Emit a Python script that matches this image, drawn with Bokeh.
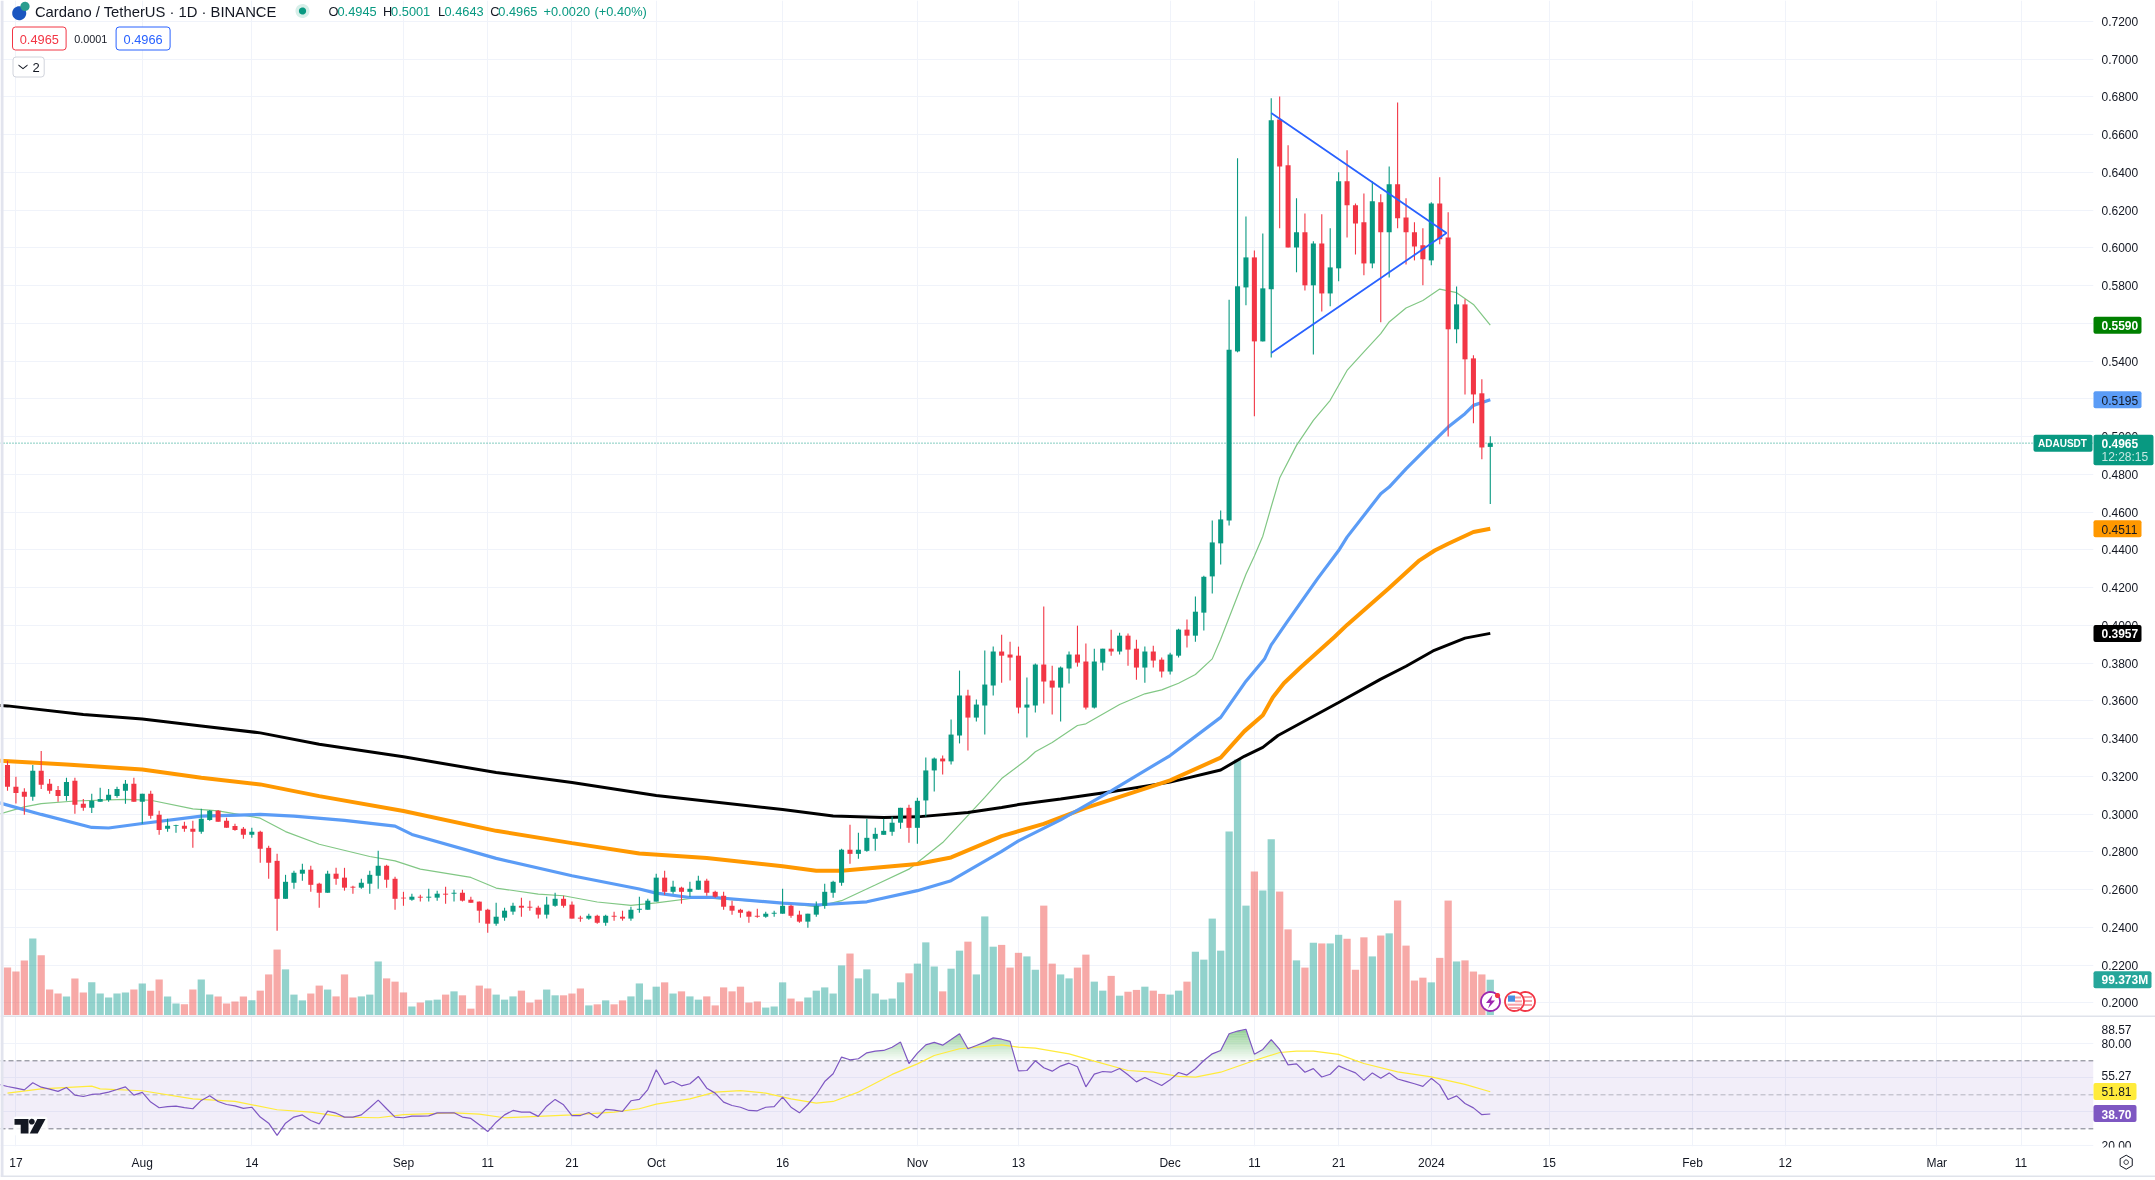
import numpy as np
from bokeh.core.properties import value
from bokeh.embed import file_html
from bokeh.resources import INLINE
from bokeh.plotting import figure
from bokeh.layouts import column
from bokeh.models import Range1d, FixedTicker, Grid, BoxAnnotation, Span, PrintfTickFormatter

# ---------- data ----------
opens = [.3260,.3144,.3118,.3091,.3229,.3160,.3128,.3096,.3176,.3054,
.3033,.3065,.3075,.3096,.3123,.3160,.3065,.3107,.2996,.2922,
.2936,.2938,.2922,.2906,.2969,.3017,.2964,.2936,.2922,.2890,
.2906,.2821,.2752,.2551,.2636,.2684,.2705,.2631,.2583,.2684,
.2663,.2615,.2610,.2631,.2673,.2726,.2657,.2557,.2546,.2562,
.2557,.2557,.2578,.2578,.2583,.2546,.2536,.2493,.2419,.2451,
.2483,.2514,.2509,.2504,.2467,.2514,.2551,.2520,.2451,.2446,
.2461,.2424,.2461,.2456,.2446,.2493,.2493,.2536,.2663,.2588,
.2610,.2588,.2599,.2647,.2588,.2567,.2514,.2493,.2483,.2461,
.2456,.2472,.2472,.2514,.2467,.2430,.2467,.2514,.2583,.2636,
.2811,.2789,.2805,.2869,.2890,.2906,.2954,.3033,.2927,.3072,
.3231,.3294,.3279,.3416,.3628,.3511,.3575,.3681,.3861,.3845,
.3839,.3564,.3575,.3792,.3707,.3670,.3771,.3845,.3808,.3564,
.3802,.3876,.3861,.3945,.3876,.3776,.3861,.3818,.3755,.3839,
.3977,.3945,.4067,.4259,.4434,.4555,.5451,.5790,.5949,.5504,
.5780,.6680,.6437,.6002,.6082,.5801,.6023,.5758,.5891,.6352,
.6225,.6135,.5917,.6241,.6082,.6336,.6161,.6082,.6013,.5933,
.6235,.6055,.5568,.5700,.5414,.5229,.4945]
highs = [.3282,.3197,.3137,.3260,.3334,.3186,.3149,.3192,.3192,.3080,
.3107,.3139,.3133,.3144,.3181,.3192,.3107,.3123,.3017,.2975,
.2943,.2959,.2964,.3028,.3022,.3022,.2980,.2948,.2932,.2927,
.2911,.2832,.2789,.2678,.2699,.2737,.2726,.2636,.2699,.2715,
.2715,.2620,.2657,.2699,.2805,.2731,.2668,.2588,.2578,.2573,
.2604,.2594,.2615,.2599,.2599,.2562,.2536,.2498,.2530,.2504,
.2530,.2557,.2541,.2514,.2562,.2583,.2567,.2536,.2461,.2472,
.2467,.2467,.2483,.2488,.2509,.2562,.2551,.2684,.2699,.2647,
.2615,.2641,.2673,.2657,.2594,.2588,.2541,.2498,.2488,.2498,
.2483,.2488,.2604,.2520,.2488,.2472,.2536,.2631,.2647,.2816,
.2943,.2901,.2975,.2927,.2975,.2985,.3033,.3049,.3086,.3300,
.3300,.3310,.3501,.3760,.3659,.3607,.3866,.3887,.3950,.3913,
.3887,.3723,.3797,.4099,.3786,.3781,.3861,.3998,.3903,.3876,
.3876,.3977,.3961,.3956,.3924,.3887,.3892,.3829,.3855,.3982,
.4030,.4152,.4263,.4555,.4608,.5725,.6474,.6166,.5986,.6076,
.6792,.6802,.6543,.6262,.6182,.6034,.6177,.6103,.6400,.6516,
.6235,.6288,.6352,.6283,.6431,.6770,.6262,.6135,.6103,.6241,
.6373,.6188,.5795,.5727,.5430,.5303,.5001]
lows = [.3123,.3056,.2996,.3070,.3133,.3107,.3065,.3070,.3001,.3017,
.3006,.3065,.3065,.3086,.3054,.3065,.2948,.2975,.2890,.2906,
.2901,.2906,.2821,.2895,.2964,.2959,.2927,.2911,.2869,.2874,
.2742,.2657,.2382,.2551,.2604,.2647,.2588,.2504,.2583,.2625,
.2594,.2578,.2604,.2578,.2604,.2610,.2493,.2514,.2541,.2536,
.2536,.2541,.2525,.2536,.2536,.2530,.2424,.2371,.2408,.2435,
.2467,.2456,.2488,.2446,.2446,.2509,.2504,.2446,.2430,.2440,
.2419,.2408,.2435,.2435,.2435,.2477,.2493,.2536,.2573,.2578,
.2525,.2562,.2599,.2567,.2557,.2493,.2467,.2451,.2424,.2451,
.2451,.2456,.2472,.2451,.2424,.2398,.2456,.2498,.2557,.2620,
.2737,.2763,.2800,.2805,.2890,.2885,.2922,.2848,.2842,.2987,
.3120,.3210,.3263,.3374,.3337,.3490,.3421,.3628,.3696,.3707,
.3533,.3406,.3538,.3585,.3527,.3490,.3691,.3781,.3554,.3559,
.3760,.3839,.3845,.3786,.3712,.3696,.3776,.3723,.3739,.3829,
.3882,.3913,.3972,.4169,.4322,.4529,.5446,.5695,.5107,.5504,
.5419,.6103,.6002,.5870,.5774,.5435,.5663,.5690,.5822,.6055,
.5965,.5854,.5891,.5605,.5843,.6103,.5912,.5933,.5801,.5907,
.6018,.5000,.5494,.5223,.5070,.4879,.4643]
closes = [.3144,.3112,.3091,.3229,.3155,.3123,.3096,.3170,.3049,.3033,
.3070,.3080,.3102,.3133,.3160,.3065,.3107,.2991,.2916,.2938,
.2941,.2922,.2906,.2975,.3017,.2959,.2927,.2916,.2890,.2906,
.2816,.2742,.2551,.2641,.2689,.2705,.2625,.2583,.2684,.2657,
.2610,.2610,.2636,.2678,.2726,.2652,.2551,.2553,.2562,.2557,
.2562,.2578,.2573,.2583,.2541,.2530,.2488,.2419,.2456,.2488,
.2514,.2504,.2504,.2467,.2520,.2551,.2514,.2446,.2446,.2461,
.2424,.2461,.2456,.2446,.2493,.2498,.2541,.2663,.2588,.2615,
.2588,.2604,.2647,.2583,.2562,.2509,.2488,.2477,.2456,.2456,
.2472,.2477,.2514,.2461,.2430,.2472,.2514,.2588,.2641,.2811,
.2789,.2811,.2874,.2895,.2911,.2954,.3033,.2927,.3070,.3231,
.3294,.3279,.3421,.3628,.3511,.3580,.3686,.3861,.3839,.3829,
.3564,.3580,.3792,.3702,.3670,.3776,.3845,.3802,.3564,.3808,
.3876,.3861,.3945,.3871,.3776,.3861,.3813,.3755,.3845,.3977,
.3945,.4072,.4257,.4439,.4561,.5460,.5796,.5949,.5504,.5785,
.6675,.6431,.6002,.6082,.5801,.6023,.5758,.5896,.6352,.6225,
.6129,.5917,.6246,.6082,.6336,.6156,.6082,.6007,.5939,.6235,
.6045,.5568,.5700,.5409,.5223,.4942,.4965]
volume_m = [133,122,153,214,167,72,61,53,103,64,
92,61,50,61,64,72,89,69,100,53,
33,31,72,100,58,53,33,39,53,42,
69,114,183,128,58,42,61,83,72,53,
114,50,53,58,150,103,94,64,25,36,
42,44,58,67,56,19,83,75,58,44,
53,69,36,44,72,56,56,61,75,28,
31,42,31,42,53,89,44,80,92,61,
67,53,44,53,28,78,67,80,36,39,
22,25,92,47,39,50,69,78,61,139,
172,103,128,61,44,47,92,117,144,203,
136,67,130,180,205,114,275,191,196,133,
174,164,127,305,144,114,103,133,169,94,
69,110,55,66,71,80,69,60,58,69,
94,177,155,269,180,511,711,305,400,347,
489,344,239,153,133,202,200,200,224,213,
127,217,164,222,228,319,194,97,105,92,
160,319,150,153,122,114,99.373]
rsi = [56.1,54.9,53.9,52.9,57.1,54.5,53.3,52.0,54.3,49.8,49.0,
50.2,50.6,51.6,53.1,54.7,49.8,51.4,45.7,42.4,43.1,
43.3,42.5,41.8,46.7,49.4,46.1,44.3,43.5,42.0,42.7,
36.9,33.3,26.1,33.3,36.9,38.2,34.9,32.9,40.4,39.2,
36.9,36.9,38.2,42.4,46.9,41.8,36.9,36.5,37.5,37.5,
37.6,39.4,39.4,39.4,36.9,36.1,32.4,28.4,33.9,38.2,
40.8,39.8,39.8,37.3,43.3,47.3,44.1,37.8,37.8,39.6,
36.5,41.4,41.0,40.2,46.5,47.3,53.1,64.7,56.1,57.8,
55.3,56.5,60.8,53.9,51.0,45.7,43.7,42.7,40.8,40.6,
42.7,43.1,48.6,42.7,39.4,44.3,50.2,57.8,62.4,72.2,
70.6,71.2,74.7,75.7,76.1,78.0,81.0,68.4,74.5,79.4,
80.8,79.2,82.5,85.9,77.1,79.0,81.0,83.5,82.7,81.4,
64.1,64.3,70.0,65.9,63.9,66.9,68.6,66.5,54.7,62.2,
63.7,63.3,65.5,61.8,57.6,60.2,57.8,55.5,58.8,63.1,
61.6,65.3,70.2,74.1,76.1,85.9,87.5,88.57,73.9,76.7,
82.5,76.7,67.6,68.2,63.3,65.4,60.5,62.1,67.0,64.9,
62.9,58.5,62.9,59.7,62.9,59.3,57.9,56.5,55.0,59.7,
55.7,47.2,49.4,44.9,42.3,38.3,38.70]
black_idx = [-1,0,9,16,23,30,37,47,58,67,77,92,98,104,108,114,118,120,125,131,138,144,146.8,149,150.8,158,163,166,169.2,173,176]
black_ma = [.3576,.3573,.3527,.3504,.3467,.3430,.3370,.3303,.3220,.3167,.3098,.3024,.2990,.2982,.2985,.3008,.3035,.3050,.3080,.3118,.3169,.3233,.3306,.3353,.3416,.3591,.3715,.3783,.3864,.3932,.3957]
orange_idx = [-1,7,16,23,30,37,47,58,67,75,83,92,96,99,108,112,118,123,128,138,144,146.8,149,150.2,151.5,153.5,157.5,159,163.9,167.6,169.4,171,174,176]
orange_ma = [.3283,.3263,.3236,.3192,.3157,.3095,.3016,.2911,.2846,.2791,.2767,.2723,.2700,.2700,.2735,.2770,.2883,.2948,.3033,.3178,.3299,.3438,.3523,.3619,.3693,.3778,.3938,.4002,.4194,.4344,.4396,.4432,.4494,.4511]
blue_idx = [-1,4,10,12,16,23,30,34,40,46,48,58,67,75,77,81,84,92,96,102,108,112,118,120,125,131,138,144,147,149.2,150,151.8,155.5,158,159,163,164,166,169,171,173,174,176]
blue_ma = [.3060,.2998,.2929,.2926,.2950,.2989,.2998,.2989,.2966,.2936,.2892,.2765,.2673,.2603,.2581,.2558,.2558,.2528,.2518,.2535,.2594,.2647,.2802,.2858,.2969,.3123,.3310,.3512,.3704,.3821,.3896,.4013,.4247,.4396,.4467,.4697,.4732,.4829,.4962,.5050,.5121,.5165,.5195]
green_idx = [-1,2,4,8,14,17,22,25,30,33,37,43,46,49,55,58,63,66,70,74,77,82,92,96,99,103,107,111,116,118,121,122,124,127,128,132,135,137,139,141,143,144,147,148,149,150,151,153,155,157,159,161,163,164,166,168,170,172,174,176]
green_ma = [.3000,.3038,.3055,.3069,.3078,.3073,.3027,.3017,.2978,.2907,.2840,.2775,.2752,.2708,.2664,.2608,.2576,.2567,.2534,.2516,.2529,.2558,.2528,.2509,.2541,.2624,.2708,.2849,.3088,.3188,.3289,.3330,.3379,.3469,.3478,.3580,.3637,.3658,.3693,.3739,.3822,.3926,.4270,.4367,.4472,.4628,.4780,.4953,.5086,.5192,.5350,.5448,.5545,.5607,.5681,.5721,.5781,.5762,.5700,.5590]
yellow_idx = [0,4,10,11,16,22,27,32,36,40,44,47,53,56,59,63,67,72,75,77,81,84,87,90,93,96,98,101,105,108,110,113,118,120,122,126,129,133,136,139,141,144,148,151,153,155,158,161,165,169,173,176]
yellow_ma = [51.0,53.5,55.1,53.5,52.4,47.6,46.1,41.2,39.8,36.9,36.5,38.4,39.4,38.6,36.5,37.3,38.2,39.8,41.8,44.5,47.6,51.6,52.5,51.0,47.6,45.1,46.1,51.6,62.0,68.2,73.1,77.1,79.4,78.0,77.5,74.1,69.8,64.3,63.3,60.8,60.4,63.3,70.2,74.9,75.7,75.7,73.8,68.4,63.5,60.5,56.1,51.81]
triangle_idx = [150.0,170.8,150.0]
triangle_price = [.6714,.6078,.5442]
time_tick_idx = [1,16,29,47,57,67,77,92,108,120,138,148,158,169,183,200,211,229,239]
time_tick_labels = ["17","Aug","14","Sep","11","21","Oct","16","Nov","13","Dec","11","21","2024","15","Feb","12","Mar","11"]
price_ticks = [.20,.22,.24,.26,.28,.30,.32,.34,.36,.38,.40,.42,.44,.46,.48,.50,.52,.54,.56,.58,.60,.62,.64,.66,.68,.70,.72]

TEAL, RED = "#089981", "#f23645"
VOL_UP, VOL_DOWN = "#26a69a", "#ef5350"
GRID = "#f0f3fa"
FONT = "Liberation Sans"
TXT = "#131722"

idx = np.arange(len(opens))
xr = (-0.831, 247.6)
TOP_H, RSI_H = 1015, 165

p1 = figure(width=2155, height=TOP_H, output_backend="svg", toolbar_location=None,
            x_range=Range1d(*xr), y_range=Range1d(0.19327, 0.7310),
            x_axis_location=None, y_axis_location="right",
            min_border_left=0, min_border_top=0, min_border_bottom=0, min_border_right=62,
            outline_line_color=None, background_fill_color="white", border_fill_color="white")
p2 = figure(width=2155, height=RSI_H, output_backend="svg", toolbar_location=None,
            x_range=p1.x_range, y_range=Range1d(19.6, 96.06),
            x_axis_location="below", y_axis_location="right",
            min_border_left=0, min_border_top=1, min_border_bottom=34, min_border_right=62,
            outline_line_color=None, background_fill_color="white", border_fill_color="white")

for p in (p1, p2):
    p.grid.visible = False
    p.add_layout(Grid(dimension=0, ticker=FixedTicker(ticks=time_tick_idx), grid_line_color=GRID, grid_line_width=1))

# ---- axes ----
ya = p1.yaxis[0]
ya.ticker = FixedTicker(ticks=price_ticks)
ya.formatter = PrintfTickFormatter(format="%.4f")
p1.add_layout(Grid(dimension=1, ticker=FixedTicker(ticks=price_ticks), grid_line_color=GRID, grid_line_width=1))
rsi_ticks = [88.57, 80, 61.3, 20]
ya2 = p2.yaxis[0]
ya2.ticker = FixedTicker(ticks=rsi_ticks)
ya2.major_label_overrides = {88.57: "88.57", 80: "80.00", 61.3: "55.27", 20: "20.00"}
p2.add_layout(Grid(dimension=1, ticker=FixedTicker(ticks=[80, 60, 40, 20]), grid_line_color=GRID, grid_line_width=1))
xa = p2.xaxis[0]
xa.ticker = FixedTicker(ticks=time_tick_idx)
xa.major_label_overrides = {k: v for k, v in zip(time_tick_idx, time_tick_labels)}
for a in (ya, ya2, xa):
    a.axis_line_color = None
    a.major_tick_line_color = None
    a.minor_tick_line_color = None
    a.major_tick_out = 0
    a.major_tick_in = 0
    a.major_label_text_font = FONT
    a.major_label_text_font_size = "12px"
    a.major_label_text_color = TXT
ya.major_label_standoff = 8
ya2.major_label_standoff = 8
xa.major_label_standoff = 9

# ---- volume ----
p1.extra_y_ranges = {"vol": Range1d(0, 1015 * 2.776)}
colors = [TEAL if c >= o else RED for o, c in zip(opens, closes)]
vol_colors = [VOL_UP if c >= o else VOL_DOWN for o, c in zip(opens, closes)]
p1.vbar(x=idx, top=volume_m, bottom=0, width=0.86, y_range_name="vol",
        fill_color=vol_colors, fill_alpha=0.5, line_color=None)

# ---- price line ----
p1.add_layout(Span(location=closes[-1], dimension="width", line_color=TEAL, line_dash="1 2", line_width=1, level="underlay"))

# ---- moving averages ----
p1.line(green_idx, green_ma, line_color="#81c784", line_width=1.2)
p1.line(black_idx, black_ma, line_color="#000000", line_width=3)
p1.line(orange_idx, orange_ma, line_color="#ff9800", line_width=4)
p1.line(blue_idx, blue_ma, line_color="#5b9cf6", line_width=3.2)

# ---- candles ----
p1.segment(x0=idx, x1=idx, y0=lows, y1=highs, line_color=colors, line_width=1.1)
p1.vbar(x=idx, top=np.maximum(opens, closes), bottom=np.minimum(opens, closes), width=0.6,
        fill_color=colors, line_color=None)
p1.line(triangle_idx, triangle_price, line_color="#2962ff", line_width=1.8)

# ---- RSI pane ----
p2.add_layout(BoxAnnotation(bottom=30, top=70, fill_color="#7e57c2", fill_alpha=0.1, line_color=None, level="underlay"))
for lvl, alpha in ((70, 1.0), (30, 1.0), (50, 0.5)):
    p2.add_layout(Span(location=lvl, dimension="width", line_color="#787b86", line_alpha=alpha,
                       line_dash="5 3", line_width=1, level="underlay"))
rsi_idx = np.arange(-1, len(rsi) - 1)
fx = np.linspace(-1, rsi_idx[-1], 1781)
fr = np.interp(fx, rsi_idx, rsi)
for l in range(70, 89):
    p2.varea(x=fx, y1=np.full_like(fx, l), y2=np.clip(fr, l, l + 1), fill_color="#4caf50",
             fill_alpha=(l - 69) / 19 * 0.62)
p2.line(yellow_idx, yellow_ma, line_color="#ffeb3b", line_width=1.2)
p2.line(rsi_idx, rsi, line_color="#7e57c2", line_width=1.2)

# ---------- transparent overlay in page pixels: legend, tags, icons ----------
ov = figure(width=2155, height=1180, output_backend="svg", toolbar_location=None,
            x_range=Range1d(0, 2155), y_range=Range1d(1180, 0),
            x_axis_location=None, y_axis_location=None,
            min_border=0, outline_line_color=None, background_fill_color=None, border_fill_color=None)
ov.grid.visible = False


def box(X0, X1, Y0, Y1, fill="white", line=None, radius=0, alpha=1.0, lw=1):
    ov.quad(left=[X0], right=[X1], top=[Y0], bottom=[Y1], fill_color=fill, fill_alpha=alpha,
            line_color=line, line_width=lw, border_radius=radius)


def txt(X, Y, s, color=TXT, size=12, bold=False, align="left"):
    ov.text(x=[X], y=[Y], text=[s], text_color=color, text_font=value(FONT), text_font_size=f"{size}px",
            text_baseline="middle", text_align=align, text_font_style="bold" if bold else "normal")


def poly(XS, YS, fill, line=None, lw=1):
    ov.patch(list(XS), list(YS), fill_color=fill, line_color=line, line_width=lw)


def circ(X, Y, r, fill, line=None, lw=1):
    t = np.linspace(0, 2 * np.pi, 40)[:-1]
    poly((X + r * np.cos(t)).tolist(), (Y + r * np.sin(t)).tolist(), fill, line, lw)


def y_price(v):
    return 1002.3 - (v - 0.20) * 1887.5


def y_rsi(v):
    return 1094.3 - (v - 50) * 1.7


def pill(Y, s, bg, fg, X1, bold=False):
    box(2093, X1, Y - 8.5, Y + 8.5, fill=bg, radius=2)
    txt(2101, Y + 0.5, s, color=fg, bold=bold)


# clipped last RSI label, rule lines, left sidebar
box(2093, 2155, 1147, 1175, fill="white")
box(0, 2155, 1015, 1016.5, fill="#e0e3eb")
box(0, 2155, 1175, 1176.6, fill="#e0e3eb")
box(0, 3, 0, 1176, fill="#e2e4ee")

# tags on the price scale
pill(y_price(green_ma[-1]), "0.5590", "#008000", "white", 2141, True)
pill(y_price(blue_ma[-1]), "0.5195", "#5b9cf6", TXT, 2141)
pill(y_price(orange_ma[-1]), "0.4511", "#ff9800", TXT, 2141)
pill(y_price(black_ma[-1]), "0.3957", "#000000", "white", 2141, True)
pill(1015 - volume_m[-1] / 2.776, "99.373M", "#26a69a", "white", 2151, True)
yc = y_price(closes[-1])
box(2033, 2092, yc - 8.5, yc + 8.5, fill=TEAL, radius=2)
txt(2037.5, yc + 0.5, "ADAUSDT", color="white", size=10, bold=True)
box(2093, 2153, yc - 8.5, yc + 22, fill=TEAL, radius=2)
txt(2101, yc + 0.5, "0.4965", color="white", bold=True)
txt(2101, yc + 14, "12:28:15", color="#c6e8e2")

# RSI tags
pill(y_rsi(52.0), "51.81", "#ffeb3b", TXT, 2136)
pill(y_rsi(39.0), "38.70", "#7e57c2", "white", 2136, True)

# settings icon
t6 = np.linspace(0, 2 * np.pi, 7)[:-1] + np.pi / 6
poly((2125.7 + 7 * np.cos(t6)).tolist(), (1161.7 + 7 * np.sin(t6)).tolist(), "white", TXT, 1)
circ(2125.7, 1161.7, 2.2, "white", TXT, 1)

# legend
circ(18.7, 12.7, 7, "#1a56c0")
circ(24.5, 5.9, 4.6, "#2a9d8f")
txt(34.4, 11, "Cardano / TetherUS · 1D · BINANCE", size=14.8)
circ(302, 10.5, 7, "#d7efe9")
circ(302, 10.5, 3.6, TEAL)
for X, s, c in [(328, "O", TXT), (337, "0.4945", TEAL), (382.6, "H", TXT), (390.6, "0.5001", TEAL), (437.5, "L", TXT),
                (444, "0.4643", TEAL), (489.7, "C", TXT), (497.8, "0.4965", TEAL), (543, "+0.0020", TEAL), (594, "(+0.40%)", TEAL)]:
    txt(X, 11, s, color=c, size=12.8)
box(12, 65.6, 26.5, 49.5, fill="white", line=RED, radius=3)
txt(38.8, 38.5, "0.4965", color=RED, size=12.8, align="center")
txt(73.7, 38.5, "0.0001", color=TXT, size=10.8)
box(115.6, 169.6, 26.5, 49.5, fill="white", line="#2962ff", radius=3)
txt(142.6, 38.5, "0.4966", color="#2962ff", size=12.8, align="center")
box(12.5, 43.7, 56.5, 76.5, fill="white", line="#d1d4dc", radius=3)
poly([18, 22.5, 27, 27, 22.5, 18], [64, 67.5, 64, 65.2, 68.8, 65.2], TXT)
txt(32, 66.5, "2", size=13)

# TradingView logo
box(13, 47, 1116, 1135, fill="white", radius=3, alpha=0.85)
poly([14, 28, 28, 20.2, 20.2, 14], [1118.5, 1118.5, 1133, 1133, 1124.3, 1124.3], TXT)
circ(31.3, 1121.2, 2.9, TXT)
poly([36.8, 45, 37.2, 29.2], [1118.5, 1118.5, 1133, 1133], TXT)

# icons over the volume pane
circ(1490, 1001, 9.5, "white", "#9c27b0", 1.8)
poly([1492, 1485.5, 1489.5, 1487.5, 1494.5, 1490.5], [994.5, 1002.5, 1002.5, 1008, 1000, 1000], "#9c27b0")
circ(1497, 995, 2.6, RED)
circ(1525, 1001, 9.5, "white", RED, 1.8)
for Y0 in (995.5, 999.5, 1003.5):
    box(1523, 1531.5, Y0, Y0 + 2, fill="#f7a1a8")
circ(1514, 1001, 9.5, "white", RED, 1.8)
box(1507.5, 1514.5, 995, 1001.2, fill="#4a90e2")
box(1514.5, 1520.5, 996, 998, fill="#f7a1a8")
box(1514.5, 1521.5, 999.8, 1001.8, fill="#f7a1a8")
box(1507, 1521.5, 1003.2, 1005.2, fill="#f7a1a8")
box(1508.5, 1519.5, 1006.5, 1008.5, fill="#f7a1a8")

layout = column(p1, p2, spacing=0)
layout.styles = {"position": "fixed", "left": "0", "top": "0"}
ov.styles = {"position": "fixed", "left": "0", "top": "0", "pointer-events": "none"}
open("out.html", "w").write(file_html([layout, ov], INLINE))
